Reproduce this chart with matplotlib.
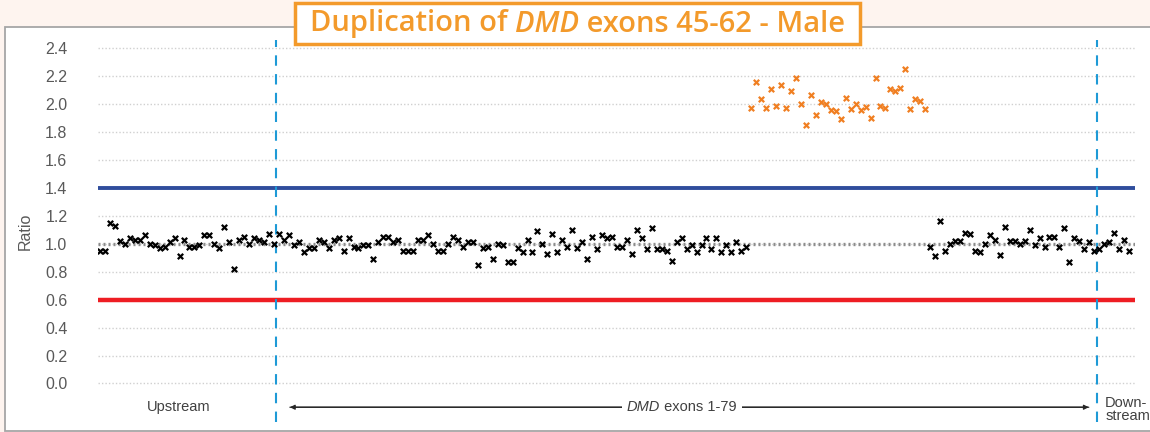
import matplotlib
matplotlib.use("Agg")
import matplotlib.pyplot as plt
from matplotlib.patches import Rectangle
import numpy as np

# ---------------- data ----------------
upstream = [0.95, 0.95, 1.15, 1.13, 1.02, 1.00, 1.04, 1.03, 1.03, 1.06, 1.00, 0.99,
            0.97, 0.98, 1.01, 1.04, 0.91, 1.03, 0.98, 0.98, 0.99, 1.06, 1.06, 1.00,
            0.97, 1.12, 1.01, 0.82, 1.03, 1.05, 1.00, 1.04, 1.03, 1.01, 1.07, 1.00]
exons_before = [1.07, 1.03, 1.06, 0.99, 1.01, 0.94, 0.97, 0.97, 1.03, 1.01, 0.97, 1.03,
                1.04, 0.95, 1.04, 0.98, 0.97, 0.99, 0.99, 0.89, 1.01, 1.05, 1.05, 1.01,
                1.03, 0.95, 0.95, 0.95, 1.03, 1.03, 1.06, 1.00, 0.95,
                0.95, 1.00, 1.05, 1.03, 0.98, 1.01, 1.01, 0.85, 0.97, 0.98, 0.89, 1.00,
                0.99, 0.87, 0.87, 0.97, 0.94, 1.03, 0.94, 1.09, 1.00, 0.93, 1.07, 0.94,
                1.03, 0.98, 1.10, 0.97, 1.01, 0.89, 1.05, 0.96, 1.06, 1.04, 1.05, 0.98,
                0.98, 1.03, 0.93, 1.10, 1.04, 0.96, 1.11, 0.96, 0.96, 0.95, 0.88, 1.01,
                1.04, 0.96, 0.99, 0.94, 0.99, 1.04, 0.96, 1.04, 0.94, 0.99, 0.94, 1.01,
                0.95, 0.98]
exons_dup = [1.97, 2.155, 2.04, 1.975, 2.105, 1.985, 2.14, 1.975, 2.095, 2.19, 2.00, 1.85,
             2.065, 1.925, 2.015, 2.00, 1.955, 1.95, 1.89, 2.045, 1.965, 2.00, 1.955, 1.98,
             1.90, 2.185, 1.99, 1.975, 2.105, 2.095, 2.115, 2.25, 1.965, 2.04, 2.02, 1.965]
exons_after = [0.98, 0.91, 1.16, 0.95, 1.00, 1.02, 1.02, 1.08, 1.07, 0.95, 0.94, 1.00,
               1.06, 1.03, 0.92, 1.12, 1.02, 1.02, 1.00, 1.02, 1.10, 0.99, 1.04, 0.98,
               1.05, 1.05, 0.98, 1.11, 0.87, 1.04, 1.02, 0.96, 1.01, 0.95]
downstream = [0.96, 1.00, 1.01, 1.08, 0.96, 1.03, 0.95]

y_ticks = [0.0, 0.2, 0.4, 0.6, 0.8, 1.0, 1.2, 1.4, 1.6, 1.8, 2.0, 2.2, 2.4]
upper_threshold = 1.4
lower_threshold = 0.6
normal_ratio = 1.0

title_parts = ["Duplication of ", "DMD", " exons 45-62 - Male"]
region_labels = ["Upstream", "DMD", " exons 1-79", "Down-\nstream"]

# ---------------- layout ----------------
W, H = 1150, 432
fig = plt.figure(figsize=(W / 100, H / 100), dpi=100)
fig.patch.set_facecolor("#FEF4EF")

# outer white panel
panel = Rectangle((4.5 / W, 1 - 430.5 / H), (1160 - 4.5) / W, (430.5 - 27) / H,
                  transform=fig.transFigure, facecolor="white",
                  edgecolor="#A6A6A6", lw=1.3, zorder=-5, clip_on=False)
fig.patches.append(panel)

ax_left, ax_right = 98, 1135
ax_top, ax_bot = 40, 422
ax = fig.add_axes([ax_left / W, 1 - ax_bot / H, (ax_right - ax_left) / W, (ax_bot - ax_top) / H])
ax.set_facecolor("none")
ax.set_zorder(1)

n_up = len(upstream)
n_before = len(exons_before)
n_dup = len(exons_dup)
n_after = len(exons_after)
n_down = len(downstream)
x_all = np.arange(n_up + n_before + n_dup + n_after + n_down)

x_up = x_all[:n_up]
x_before = x_all[n_up:n_up + n_before]
x_dup = x_all[n_up + n_before:n_up + n_before + n_dup]
x_after = x_all[n_up + n_before + n_dup:n_up + n_before + n_dup + n_after]
x_down = x_all[n_up + n_before + n_dup + n_after:]

total = len(x_all)
ax.set_xlim(-0.4, total - 1 + 1.2)
ax.set_ylim(-0.2757, 2.459)

# gridlines
for t in y_ticks:
    ax.axhline(t, color="#D0D0D0", lw=1.0, ls=(0, (1, 1.5)), zorder=1)

ax.axhline(normal_ratio, color="#8C8C8C", lw=2.4, ls=(0, (0.6, 0.9)), zorder=2)
ax.axhline(upper_threshold, color="#2F4D9C", lw=2.8, zorder=2, solid_capstyle="round")
ax.axhline(lower_threshold, color="#EE1D23", lw=3.2, zorder=2, solid_capstyle="round")

# region boundaries
b1 = n_up - 0.5
b2 = n_up + n_before + n_dup + n_after - 0.5
for b in (b1, b2):
    ax.axvline(b, color="#1E9AD6", lw=1.5, ls=(0, (5, 4)), zorder=3)

mk = dict(marker="x", s=15, linewidths=1.6, zorder=4)
black = "#000000"
ax.scatter(x_up, upstream, color=black, **mk)
ax.scatter(x_before, exons_before, color=black, **mk)
ax.scatter(x_dup, exons_dup, color="#F07F22", **mk)
ax.scatter(x_after, exons_after, color=black, **mk)
ax.scatter(x_down, downstream, color=black, **mk)

# axes styling
for s in ax.spines.values():
    s.set_visible(False)
ax.set_xticks([])
ax.set_yticks(y_ticks)
ax.set_yticklabels([f"{t:.1f}" for t in y_ticks], fontsize=11.5,
                   color="#595959", family="Liberation Sans")
ax.tick_params(axis="y", length=0, pad=22)
ax.set_ylabel("Ratio", fontsize=11.5, color="#595959", family="Liberation Sans")
ax.yaxis.set_label_coords(-(ax_left - 33) / (ax_right - ax_left), 0.5)

# region labels
y_lab = -0.17
txt_kw = dict(fontsize=10.5, color="#404040", family="Liberation Sans", va="center")
ax.text(15.8, y_lab, region_labels[0], ha="center", **txt_kw)
arrow_l = b1 + 2.7
arrow_r = b2 - 1.6
ax.annotate("", xy=(arrow_l, y_lab), xytext=(arrow_r, y_lab),
            arrowprops=dict(arrowstyle="-|>", color="#262626", lw=0.9,
                            mutation_scale=7, shrinkA=0, shrinkB=0), zorder=3)
ax.annotate("", xy=(arrow_r, y_lab), xytext=(arrow_l, y_lab),
            arrowprops=dict(arrowstyle="-|>", color="#262626", lw=0.9,
                            mutation_scale=7, shrinkA=0, shrinkB=0), zorder=3)
mid = (arrow_l + arrow_r) / 2 - 1.5
t1 = ax.text(mid, y_lab, region_labels[1] + region_labels[2], ha="center",
             alpha=0, **txt_kw)
fig.canvas.draw()
bb = t1.get_window_extent()
inv = ax.transData.inverted()
x0 = inv.transform((bb.x0, bb.y0))[0]
x1 = inv.transform((bb.x1, bb.y0))[0]
ax.add_patch(Rectangle((x0 - 1.0, y_lab - 0.05), (x1 - x0) + 2.0, 0.1,
                       facecolor="white", edgecolor="none", zorder=4))
ta = ax.text(x0, y_lab, region_labels[1], ha="left", style="italic", zorder=5, **txt_kw)
fig.canvas.draw()
bb2 = ta.get_window_extent()
xa = inv.transform((bb2.x1, bb2.y0))[0]
ax.text(xa, y_lab, region_labels[2], ha="left", zorder=5, **txt_kw)

ax.text(b2 + 1.7, -0.185, region_labels[3], ha="left", linespacing=0.95,
        clip_on=False, **txt_kw)

# title box
tbox = Rectangle((295 / W, 1 - 44 / H), (860 - 295) / W, (44 - 3) / H,
                 transform=fig.transFigure, facecolor="white",
                 edgecolor="#F39A2B", lw=2.5, zorder=5, clip_on=False)
fig.patches.append(tbox)
tkw = dict(fontsize=21, color="#F39A2B", family="Open Sans", weight="semibold",
           va="center", zorder=6)
yc = 1 - 24 / H
p0 = fig.text(0, yc, title_parts[0], **tkw)
p1 = fig.text(0, yc, title_parts[1], style="italic", **tkw)
p2 = fig.text(0, yc, title_parts[2], **tkw)
fig.canvas.draw()
ws = [p.get_window_extent().width for p in (p0, p1, p2)]
tot = sum(ws)
start = 577.5 - tot / 2
xpos = start
for p, w in zip((p0, p1, p2), ws):
    p.set_x(xpos / W)
    xpos += w

fig.savefig("out.png", dpi=100, facecolor=fig.get_facecolor())
